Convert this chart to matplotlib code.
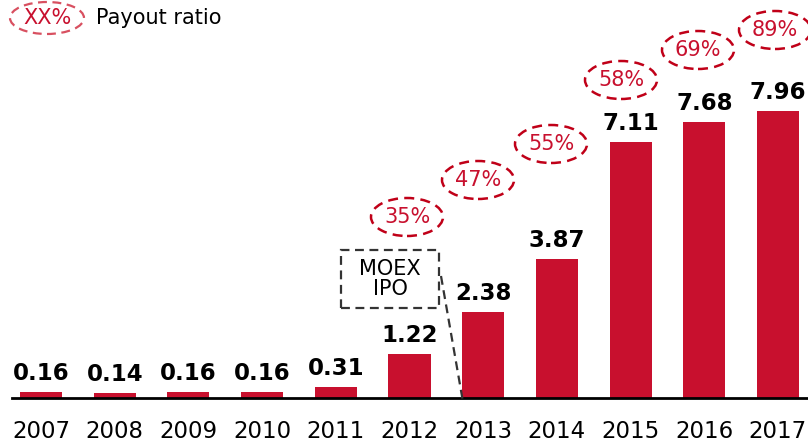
import matplotlib.pyplot as plt
from matplotlib.patches import Ellipse

years = ['2007', '2008', '2009', '2010', '2011', '2012', '2013', '2014', '2015', '2016', '2017']
dividends = [0.16, 0.14, 0.16, 0.16, 0.31, 1.22, 2.38, 3.87, 7.11, 7.68, 7.96]
payout_years = ['2012', '2013', '2014', '2015', '2016', '2017']
payout = ['35%', '47%', '55%', '58%', '69%', '89%']

RED = '#C8102E'
plt.rcParams['font.family'] = ['DejaVu Sans']

# layout: pixel -> data helpers (41px first bar centre, 73.7px per bar, 36px per unit)
def px_x(px):
    return (px - 41) / 73.7

def px_y(py):
    return (398 - py) / 36.0

fig = plt.figure(figsize=(8.08, 4.43), dpi=100)
ax = fig.add_axes([0, 0, 1, 1])
ax.set_xlim(px_x(0), px_x(808))
ax.set_ylim(px_y(443), px_y(0))
ax.axis('off')

x = list(range(len(years)))
ax.bar(x, dividends, width=0.57, color=RED, zorder=2)
ax.plot([px_x(12), px_x(808)], [0, 0], color='black', lw=2, zorder=3)

for i, v in enumerate(dividends):
    ax.annotate(f'{v:.2f}', (i, v), xytext=(0, 5), textcoords='offset points',
                ha='center', va='bottom', fontsize=16.5, fontweight='bold')
    ax.text(i, px_y(432), years[i], ha='center', va='center', fontsize=16.5)

# payout ratio bubbles (centres in pixels)
bubble_px = [(407, 217), (478, 180), (551, 144), (621, 80), (698, 50), (775, 30)]
for label, (bx, by) in zip(payout, bubble_px):
    e = Ellipse((px_x(bx), px_y(by)), 72 / 73.7, 38 / 36.0, fill=False,
                edgecolor='#C00018', lw=1.8, ls=(0, (4, 2.5)), zorder=4)
    ax.add_patch(e)
    ax.text(px_x(bx), px_y(by), label, ha='center', va='center', color=RED, fontsize=15)

# legend
e = Ellipse((px_x(47), px_y(18)), 74 / 73.7, 32 / 36.0, fill=False,
            edgecolor='#D85060', lw=1.6, ls=(0, (4, 2.5)))
ax.add_patch(e)
ax.text(px_x(47), px_y(18), 'XX%', ha='center', va='center', color=RED, fontsize=15)
ax.text(px_x(96), px_y(18), 'Payout ratio', ha='left', va='center', fontsize=15)

# MOEX IPO callout
ax.add_patch(plt.Rectangle((px_x(341), px_y(308)), (439 - 341) / 73.7, (308 - 250) / 36.0,
                           fill=False, edgecolor='#333333', lw=1.6, ls=(0, (4, 2.5)), zorder=4))
ax.text(px_x(390), px_y(279), 'MOEX\nIPO', ha='center', va='center', fontsize=15,
        linespacing=1.05)
ax.plot([px_x(441), px_x(463)], [px_y(276), px_y(402)], color='#333333', lw=1.6,
        ls=(0, (4, 2.5)), zorder=4)

plt.savefig('out.png', dpi=100)
